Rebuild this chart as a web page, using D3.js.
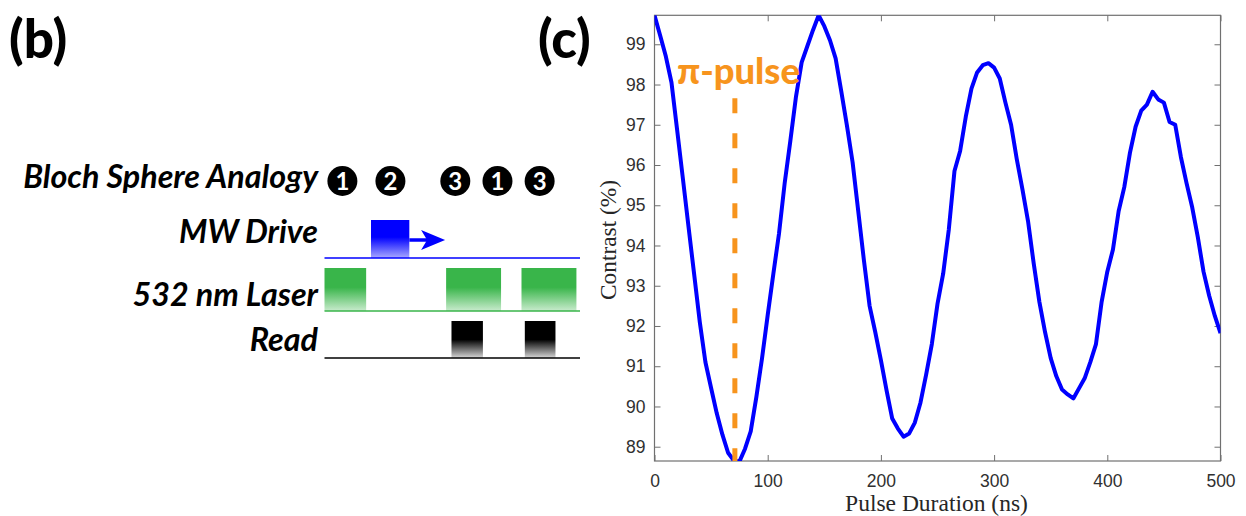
<!DOCTYPE html>
<html>
<head>
<meta charset="utf-8">
<script src="https://cdn.jsdelivr.net/npm/d3@7"></script>
<style>
  body { margin: 0; background: #ffffff; }
  svg { display: block; }
</style>
</head>
<body>
<div id="chart-area"></div>
<script>

// ---- panel (c) data: Rabi oscillation ----
const pulseDuration = [
  0, 5, 10, 15, 20, 25, 30, 35, 40, 45,
  50, 55, 60, 65, 70, 75, 80, 85, 90, 95,
  100, 105, 110, 115, 120, 125, 130, 135, 140, 145,
  150, 155, 160, 165, 170, 175, 180, 185, 190, 195,
  200, 205, 210, 215, 220, 225, 230, 235, 240, 245,
  250, 255, 260, 265, 270, 275, 280, 285, 290, 295,
  300, 305, 310, 315, 320, 325, 330, 335, 340, 345,
  350, 355, 360, 365, 370, 375, 380, 385, 390, 395,
  400, 405, 410, 415, 420, 425, 430, 435, 440, 445,
  450, 455, 460, 465, 470, 475, 480, 485, 490, 495,
  500
];
const contrast = [
  99.72, 99.22, 98.70, 98.05, 96.87, 95.68, 94.48, 93.29, 92.10, 91.10,
  90.46, 89.83, 89.30, 88.85, 88.66, 88.63, 88.95, 89.38, 90.24, 91.20,
  92.27, 93.30, 94.30, 95.55, 96.60, 97.70, 98.55, 98.95, 99.35, 99.72,
  99.45, 99.10, 98.65, 97.83, 96.98, 96.07, 94.85, 93.63, 92.50, 91.85,
  91.15, 90.40, 89.70, 89.45, 89.25, 89.33, 89.60, 90.10, 90.80, 91.55,
  92.55, 93.30, 94.40, 95.85, 96.35, 97.20, 97.90, 98.30, 98.48, 98.53,
  98.42, 98.15, 97.55, 97.00, 96.15, 95.40, 94.60, 93.55, 92.60, 91.85,
  91.20, 90.75, 90.42, 90.30, 90.20, 90.45, 90.70, 91.10, 91.55, 92.60,
  93.35, 93.90, 94.85, 95.45, 96.30, 96.95, 97.35, 97.50, 97.82, 97.63,
  97.55, 97.07, 97.00, 96.20, 95.55, 94.95, 94.20, 93.35, 92.75, 92.25,
  91.82
];
const xTicks = [0, 100, 200, 300, 400, 500];
const yTicks = [89, 90, 91, 92, 93, 94, 95, 96, 97, 98, 99];
const yDomain = [88.645, 99.72];
const piPulseTime = 71;
const piPulseTop = 97.66;

// ---- panel (b) data: pulse sequence (time in arbitrary units 0..100) ----
const rowLabels = ['Bloch Sphere Analogy', 'MW Drive', '532 nm Laser', 'Read'];
const blochSteps = ['1', '2', '3', '1', '3'];
const blochTimes = [7.0, 25.8, 51.2, 67.7, 84.2];
const mwPulses = [[18.2, 33.2]];
const mwArrowEnd = 47.2;
const laserPulses = [[0, 16.3], [47.6, 69.1], [77.1, 98.6]];
const readPulses = [[49.7, 62.0], [78.4, 90.4]];

const widthSvg = 1246;
const heightSvg = 516;

const svg = d3.select('#chart-area').append('svg')
  .attr('width', widthSvg)
  .attr('height', heightSvg);

const defs = svg.append('defs');

const addFade = (id, top, bottom, hold) => {
  const g = defs.append('linearGradient')
    .attr('id', id)
    .attr('x1', 0).attr('y1', 0).attr('x2', 0).attr('y2', 1);
  g.append('stop').attr('offset', 0).attr('stop-color', top);
  g.append('stop').attr('offset', hold).attr('stop-color', top);
  g.append('stop').attr('offset', 1).attr('stop-color', bottom);
};
addFade('fade-blue', '#0000ff', '#a8a8ff', 0.45);
addFade('fade-green', '#39b54a', '#c9ebcd', 0.45);
addFade('fade-black', '#000000', '#d8d8d8', 0.5);

// ================= panel (b) =================
const panelFont = 'Lato, "Open Sans", sans-serif';

svg.append('text')
  .text('(b)')
  .attr('x', 9)
  .attr('y', 58)
  .attr('font-family', panelFont)
  .attr('font-weight', 900)
  .attr('font-size', 53);

svg.append('text')
  .text('(c)')
  .attr('x', 538)
  .attr('y', 58)
  .attr('font-family', panelFont)
  .attr('font-weight', 900)
  .attr('font-size', 53);

const scaleT = d3.scaleLinear()
  .domain([0, 100])
  .range([324.5, 580]);

// row geometry: [top, baseline]
const rowBlue = [220, 258];
const rowGreen = [268, 311];
const rowBlack = [321, 358];

const labelBaselines = [188, 243, 306, 351];
const labels = svg.append('g')
  .attr('font-family', panelFont)
  .attr('font-weight', 700)
  .attr('font-style', 'italic')
  .attr('font-size', 28)
  .attr('text-anchor', 'end');

labels.selectAll('text')
  .data(rowLabels)
  .enter()
  .append('text')
    .attr('x', 318)
    .attr('y', (d, i) => labelBaselines[i])
    .text(d => d);

// fit the first label to its width in the picture, use that size for all
const blochNode = labels.select('text').node();
const fitSize = 28 * 295 / blochNode.getComputedTextLength();
labels.attr('font-size', fitSize);

const steps = svg.append('g');
steps.selectAll('circle')
  .data(blochSteps)
  .enter()
  .append('circle')
    .attr('cx', (d, i) => scaleT(blochTimes[i]))
    .attr('cy', 181)
    .attr('r', 15)
    .attr('fill', '#000');
steps.selectAll('text')
  .data(blochSteps)
  .enter()
  .append('text')
    .attr('x', (d, i) => scaleT(blochTimes[i]))
    .attr('y', 181)
    .attr('dy', '0.36em')
    .attr('text-anchor', 'middle')
    .attr('fill', '#fff')
    .attr('font-family', panelFont)
    .attr('font-weight', 700)
    .attr('font-size', 24)
    .text(d => d);

// MW drive
svg.selectAll('rect.mw')
  .data(mwPulses)
  .enter()
  .append('rect')
    .attr('class', 'mw')
    .attr('x', d => scaleT(d[0]))
    .attr('y', rowBlue[0])
    .attr('width', d => scaleT(d[1]) - scaleT(d[0]))
    .attr('height', rowBlue[1] - rowBlue[0])
    .attr('fill', 'url(#fade-blue)');

const arrowY = 240;
const tip = scaleT(mwArrowEnd);
svg.append('line')
  .attr('x1', scaleT(mwPulses[0][1]))
  .attr('x2', tip - 14)
  .attr('y1', arrowY)
  .attr('y2', arrowY)
  .attr('stroke', '#0000ff')
  .attr('stroke-width', 3.5);
svg.append('path')
  .attr('d', `M${tip},${arrowY} L${tip - 24},${arrowY - 10} L${tip - 18},${arrowY} L${tip - 24},${arrowY + 10} Z`)
  .attr('fill', '#0000ff');

svg.append('line')
  .attr('x1', scaleT(0)).attr('x2', scaleT(100))
  .attr('y1', rowBlue[1]).attr('y2', rowBlue[1])
  .attr('stroke', '#0000ff')
  .attr('stroke-width', 1.5);

// laser
svg.selectAll('rect.laser')
  .data(laserPulses)
  .enter()
  .append('rect')
    .attr('class', 'laser')
    .attr('x', d => scaleT(d[0]))
    .attr('y', rowGreen[0])
    .attr('width', d => scaleT(d[1]) - scaleT(d[0]))
    .attr('height', rowGreen[1] - rowGreen[0])
    .attr('fill', 'url(#fade-green)');

svg.append('line')
  .attr('x1', scaleT(0)).attr('x2', scaleT(100))
  .attr('y1', rowGreen[1]).attr('y2', rowGreen[1])
  .attr('stroke', '#39b54a')
  .attr('stroke-width', 1.5);

// read
svg.selectAll('rect.read')
  .data(readPulses)
  .enter()
  .append('rect')
    .attr('class', 'read')
    .attr('x', d => scaleT(d[0]))
    .attr('y', rowBlack[0])
    .attr('width', d => scaleT(d[1]) - scaleT(d[0]))
    .attr('height', rowBlack[1] - rowBlack[0])
    .attr('fill', 'url(#fade-black)');

svg.append('line')
  .attr('x1', scaleT(0)).attr('x2', scaleT(100))
  .attr('y1', rowBlack[1]).attr('y2', rowBlack[1])
  .attr('stroke', '#000')
  .attr('stroke-width', 1.5);

// ================= panel (c) =================
const plot = { left: 654.5, top: 15.3, right: 1220.5, bottom: 461 };

const scaleX = d3.scaleLinear()
  .domain([0, 500])
  .range([plot.left, plot.right]);

const scaleY = d3.scaleLinear()
  .domain(yDomain)
  .range([plot.bottom, plot.top]);

const tickFont = '"Liberation Sans", Arial, sans-serif';
const axisColor = '#707070';

const styleAxis = g => {
  g.select('.domain').remove();
  g.selectAll('.tick line').attr('stroke', axisColor).attr('stroke-width', 1);
  g.selectAll('.tick text')
    .attr('fill', '#303030')
    .attr('font-family', tickFont)
    .attr('font-size', 17.5);
};

svg.append('g')
  .attr('transform', `translate(0, ${plot.bottom})`)
  .call(d3.axisBottom(scaleX).tickValues(xTicks).tickSizeInner(-6).tickSizeOuter(0).tickPadding(14))
  .call(styleAxis);

svg.append('g')
  .attr('transform', `translate(0, ${plot.top})`)
  .call(d3.axisTop(scaleX).tickValues(xTicks).tickSizeInner(-6).tickSizeOuter(0).tickFormat(''))
  .call(styleAxis);

svg.append('g')
  .attr('transform', `translate(${plot.left}, 0)`)
  .call(d3.axisLeft(scaleY).tickValues(yTicks).tickSizeInner(-6).tickSizeOuter(0).tickPadding(9))
  .call(styleAxis);

svg.append('g')
  .attr('transform', `translate(${plot.right}, 0)`)
  .call(d3.axisRight(scaleY).tickValues(yTicks).tickSizeInner(-6).tickSizeOuter(0).tickFormat(''))
  .call(styleAxis);

svg.append('rect')
  .attr('x', plot.left)
  .attr('y', plot.top)
  .attr('width', plot.right - plot.left)
  .attr('height', plot.bottom - plot.top)
  .attr('fill', 'none')
  .attr('stroke', axisColor)
  .attr('stroke-width', 1.2);

defs.append('clipPath')
  .attr('id', 'plot-clip')
  .append('rect')
    .attr('x', plot.left)
    .attr('y', plot.top)
    .attr('width', plot.right - plot.left)
    .attr('height', plot.bottom - plot.top);

const line = d3.line()
  .x((d, i) => scaleX(pulseDuration[i]))
  .y(d => scaleY(d));

svg.append('path')
  .datum(contrast)
  .attr('clip-path', 'url(#plot-clip)')
  .attr('d', line)
  .attr('fill', 'none')
  .attr('stroke', '#0000ff')
  .attr('stroke-width', 4)
  .attr('stroke-linejoin', 'round');

// pi-pulse marker
svg.append('line')
  .attr('x1', scaleX(piPulseTime))
  .attr('x2', scaleX(piPulseTime))
  .attr('y1', scaleY(piPulseTop))
  .attr('y2', scaleY(yDomain[0]))
  .attr('stroke', '#f7941d')
  .attr('stroke-width', 5)
  .attr('stroke-dasharray', '15,20');

const piLabel = svg.append('text')
  .text('π-pulse')
  .attr('x', 677)
  .attr('y', 84)
  .attr('fill', '#f7941d')
  .attr('font-family', panelFont)
  .attr('font-weight', 900)
  .attr('font-size', 32);
piLabel.attr('font-size', 32 * 123 / piLabel.node().getComputedTextLength());

// axis titles
const titleFont = '"Liberation Serif", "DejaVu Serif", serif';

const xTitle = svg.append('text')
  .text('Pulse Duration (ns)')
  .attr('x', 936.5)
  .attr('y', 511)
  .attr('text-anchor', 'middle')
  .attr('fill', '#262626')
  .attr('font-family', titleFont)
  .attr('font-size', 20);
xTitle.attr('font-size', 20 * 183 / xTitle.node().getComputedTextLength());

const yTitle = svg.append('text')
  .text('Contrast (%)')
  .attr('transform', `translate(616, 240) rotate(-90)`)
  .attr('text-anchor', 'middle')
  .attr('fill', '#262626')
  .attr('font-family', titleFont)
  .attr('font-size', 20);
yTitle.attr('font-size', 20 * 120 / yTitle.node().getComputedTextLength());

</script>
</body>
</html>
